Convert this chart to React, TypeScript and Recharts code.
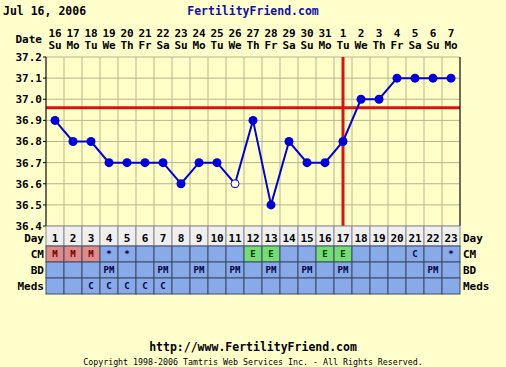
import React from 'react';
import { ComposedChart, Line, XAxis, YAxis, CartesianGrid, ReferenceLine } from 'recharts';

const days = [1, 2, 3, 4, 5, 6, 7, 8, 9, 10, 11, 12, 13, 14, 15, 16, 17, 18, 19, 20, 21, 22, 23];
const dates = ['16', '17', '18', '19', '20', '21', '22', '23', '24', '25', '26', '27', '28', '29', '30', '31', '1', '2', '3', '4', '5', '6', '7'];
const weekdays = ['Su', 'Mo', 'Tu', 'We', 'Th', 'Fr', 'Sa', 'Su', 'Mo', 'Tu', 'We', 'Th', 'Fr', 'Sa', 'Su', 'Mo', 'Tu', 'We', 'Th', 'Fr', 'Sa', 'Su', 'Mo'];
const temps = [36.9, 36.8, 36.8, 36.7, 36.7, 36.7, 36.7, 36.6, 36.7, 36.7, 36.6, 36.9, 36.5, 36.8, 36.7, 36.7, 36.8, 37.0, 37.0, 37.1, 37.1, 37.1, 37.1];
const openDays = [11];
const cm = ['M', 'M', 'M', '*', '*', '', '', '', '', '', '', 'E', 'E', '', '', 'E', 'E', '', '', '', 'C', '', '*'];
const bd = ['', '', '', 'PM', '', '', 'PM', '', 'PM', '', 'PM', '', 'PM', '', 'PM', '', 'PM', '', '', '', '', 'PM', ''];
const meds = ['', '', 'C', 'C', 'C', 'C', 'C', '', '', '', '', '', '', '', '', '', '', '', '', '', '', '', ''];
const tempTicks = [36.4, 36.5, 36.6, 36.7, 36.8, 36.9, 37.0, 37.1, 37.2];
const coverline = 36.96;
const ovulationDay = 17;

const data = days.map((d, i) => ({ day: d, temp: temps[i] }));
const colEdges = [...days.map((d) => d - 0.5), days[days.length - 1] + 0.5];
const domain: [number, number] = [colEdges[0], colEdges[colEdges.length - 1]];

const FONT = '"DejaVu Sans Mono", monospace';
const BG = '#ffffcc';

const DateTick = (props: any) => {
  const { x, y, index } = props;
  const w = (props.width || 414) / days.length;
  return (
    <g fontFamily={FONT} fontWeight="bold" fontSize={11} fill="#000">
      {index === 0 && (
        <text x={x - w / 2 - 4} y={y - 14} textAnchor="end">Date</text>
      )}
      <text x={x} y={y - 20} textAnchor="middle">{dates[index]}</text>
      <text x={x} y={y - 8} textAnchor="middle">{weekdays[index]}</text>
    </g>
  );
};

const cmFill = (v: string) => (v === 'M' ? '#e08a8a' : v === 'E' ? '#74dc74' : '#88aae8');
const cmText = (v: string) => (v === 'M' ? '#6a0000' : v === 'E' ? '#003a00' : '#000040');

const TableTick = (props: any) => {
  const { x, y, index } = props;
  const w = (props.width || 414) / days.length;
  const x0 = x - w / 2;
  const rows = [
    { label: 'CM', top: 20, h: 16, v: cm[index] },
    { label: 'BD', top: 36, h: 16, v: bd[index] },
    { label: 'Meds', top: 52, h: 16, v: meds[index] },
  ];
  return (
    <g fontFamily={FONT} fontWeight="bold">
      <rect x={x0} y={y} width={w} height={20} fill="#efefef" stroke="#8a8a8a" />
      <text x={x} y={y + 16} textAnchor="middle" fontSize={11} fill="#000">{days[index]}</text>
      {rows.map((r) => (
        <g key={r.label}>
          <rect x={x0} y={y + r.top} width={w} height={r.h} fill={r.label === 'CM' ? cmFill(r.v) : '#88aae8'} stroke="#3e4a66" />
          <text x={x} y={y + r.top + 11} textAnchor="middle" fontSize={9} fill={r.label === 'CM' ? cmText(r.v) : '#000040'}>{r.v}</text>
        </g>
      ))}
      {index === 0 && (
        <g fontSize={11} fill="#000" textAnchor="end">
          <text x={x0 - 2} y={y + 16}>Day</text>
          {rows.map((r) => (
            <text key={r.label} x={x0 - 2} y={y + r.top + 12}>{r.label}</text>
          ))}
        </g>
      )}
      {index === days.length - 1 && (
        <g fontSize={11} fill="#000" textAnchor="start">
          <text x={x0 + w + 3} y={y + 16}>Day</text>
          {rows.map((r) => (
            <text key={r.label} x={x0 + w + 3} y={y + r.top + 12}>{r.label}</text>
          ))}
        </g>
      )}
    </g>
  );
};

const TempDot = (props: any) => {
  const { cx, cy, index } = props;
  if (openDays.includes(days[index])) {
    return <circle key={index} cx={cx} cy={cy} r={4} fill="#ffffff" stroke="#0000dd" strokeWidth={1} />;
  }
  return <circle key={index} cx={cx} cy={cy} r={4.5} fill="#0000dd" stroke="none" />;
};

const yTickStyle = { fontFamily: FONT, fontWeight: 'bold', fontSize: 11, fill: '#000' };

export default function App() {
  return (
    <div style={{ position: 'fixed', left: 0, top: 0, width: 506, height: 367, background: BG, overflow: 'hidden' }}>
      <div style={{ position: 'absolute', left: 3, top: 5, fontFamily: FONT, fontWeight: 'bold', fontSize: 11.5, lineHeight: '12px', color: '#000' }}>
        Jul 16, 2006
      </div>
      <div style={{ position: 'absolute', left: 0, width: 506, top: 5, textAlign: 'center', fontFamily: FONT, fontWeight: 'bold', fontSize: 11.5, lineHeight: '12px', color: '#1010a8' }}>
        FertilityFriend.com
      </div>
      <ComposedChart width={506} height={367} data={data} margin={{ top: 32, right: 0, bottom: 71, left: 0 }}>
        <CartesianGrid xAxisId="grid" yAxisId="left" stroke="#b5b58e" fill="#ffffc8" />
        <XAxis xAxisId="top" orientation="top" type="number" dataKey="day" domain={domain} ticks={days} interval={0} height={25} axisLine={false} tickLine={false} tickSize={0} tickMargin={0} tick={<DateTick />} />
        <XAxis xAxisId="grid" type="number" dataKey="day" domain={domain} ticks={colEdges} interval={0} height={0} hide />
        <XAxis xAxisId="table" orientation="bottom" type="number" dataKey="day" domain={domain} ticks={days} interval={0} height={70} axisLine={false} tickLine={false} tickSize={0} tickMargin={0} tick={<TableTick />} />
        <YAxis yAxisId="left" width={46} domain={[36.4, 37.2]} ticks={tempTicks} interval={0} tickFormatter={(v: number) => v.toFixed(1)} tick={yTickStyle} axisLine={{ stroke: '#000' }} tickLine={{ stroke: '#000' }} tickSize={3} tickMargin={1} />
        <YAxis yAxisId="right" orientation="right" width={46} domain={[36.4, 37.2]} ticks={tempTicks} interval={0} tickFormatter={(v: number) => v.toFixed(1)} tick={yTickStyle} axisLine={{ stroke: '#000' }} tickLine={{ stroke: '#000' }} tickSize={3} tickMargin={1} />
        <ReferenceLine xAxisId="grid" yAxisId="left" y={coverline} stroke="#dd1111" strokeWidth={3} />
        <ReferenceLine xAxisId="grid" yAxisId="left" x={ovulationDay} stroke="#dd1111" strokeWidth={3} />
        <Line xAxisId="grid" yAxisId="left" dataKey="temp" stroke="#0000dd" strokeWidth={2} dot={<TempDot />} isAnimationActive={false} />
      </ComposedChart>
      <div style={{ position: 'absolute', left: 0, width: 506, top: 341, textAlign: 'center', fontFamily: FONT, fontWeight: 'bold', fontSize: 11.5, lineHeight: '12px', color: '#000' }}>
        http://www.FertilityFriend.com
      </div>
      <div style={{ position: 'absolute', left: 0, width: 506, top: 358, textAlign: 'center', fontFamily: FONT, fontSize: 8.3, lineHeight: '9px', color: '#000' }}>
        Copyright 1998-2006 Tamtris Web Services Inc. - All Rights Reserved.
      </div>
    </div>
  );
}
